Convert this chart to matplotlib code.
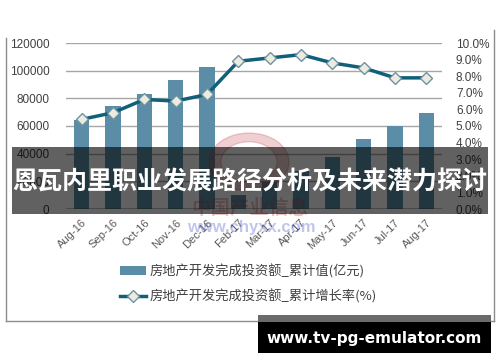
import numpy as np
import matplotlib.pyplot as plt
from matplotlib.patches import Rectangle, Wedge
from matplotlib.lines import Line2D

plt.rcParams['font.family'] = ['Liberation Sans', 'Noto Sans CJK SC', 'DejaVu Sans']

# 数据
months = ['Aug-16', 'Sep-16', 'Oct-16', 'Nov-16', 'Dec-16', 'Feb-17',
          'Mar-17', 'Apr-17', 'May-17', 'Jun-17', 'Jul-17', 'Aug-17']
invest = [64387, 74598, 83363, 93385, 102581, 9856,
          19292, 27732, 37732, 50610, 59761, 69694]
growth = [5.4, 5.8, 6.6, 6.5, 6.9, 8.9, 9.1, 9.3, 8.8, 8.5, 7.9, 7.9]
left_ticks = [0, 20000, 40000, 60000, 80000, 100000, 120000]
right_ticks = [0, 1, 2, 3, 4, 5, 6, 7, 8, 9, 10]

bar_label = '房地产开发完成投资额_累计值(亿元)'
line_label = '房地产开发完成投资额_累计增长率(%)'
title = '恩瓦内里职业发展路径分析及未来潜力探讨'

W, H = 500, 362
fig = plt.figure(figsize=(5, 3.62), dpi=100)
ax = fig.add_axes([66 / W, 1 - 209 / H, 376 / W, 166 / H])
ax2 = ax.twinx()

x = np.arange(len(months))
bars = ax.bar(x, invest, width=0.48, color='#5b8ea6', zorder=2, label=bar_label)
ax.set_xlim(-0.5, len(months) - 0.5)
ax.set_ylim(0, 120000)
ax.set_yticks(left_ticks)
ax.grid(axis='y', color='#a6a6a6', linewidth=1, zorder=0)
ax.axhline(0, color='black', linewidth=1, zorder=3)
ax.set_axisbelow(True)

line, = ax2.plot(x, growth, color='#11607a', linewidth=2.5, marker='D',
                 markersize=6.5, markerfacecolor='#edebe0', markeredgecolor='#6c93a2',
                 markeredgewidth=1, zorder=4, label=line_label)
ax2.set_ylim(0, 10)
ax2.set_yticks(right_ticks)
ax2.set_yticklabels([f'{v:.1f}%' for v in right_ticks])

for a in (ax, ax2):
    for s in a.spines.values():
        s.set_visible(False)
    a.tick_params(length=0, labelsize=8.5, labelcolor='#404040')
ax.tick_params(axis='y', pad=12)
ax2.tick_params(axis='y', pad=10)
ax.set_xticks(x)
ax.set_xticklabels(months, rotation=45, ha='right', rotation_mode='anchor',
                   fontsize=8, color='#595959')
ax.tick_params(axis='x', pad=6)

# 图例
fig.legend(handles=[bars, line], labels=[bar_label, line_label],
           loc='upper left', bbox_to_anchor=(120 / W, 1 - 264 / H),
           frameon=False, fontsize=9.5, handlelength=2.0, handletextpad=0.25,
           labelspacing=0.85, borderpad=0, borderaxespad=0,
           prop={'family': ['Noto Sans CJK SC', 'DejaVu Sans'], 'size': 9.5},
           labelcolor='#404040')

# 外框
fx = lambda px: px / W
fy = lambda py: 1 - py / H
fig.add_artist(Line2D([fx(5.5), fx(5.5)], [fy(38), fy(321)], color='#8c8c8c', lw=1))
fig.add_artist(Line2D([fx(5.5), fx(494)], [fy(321), fy(321)], color='#8c8c8c', lw=1))
fig.add_artist(Line2D([fx(494), fx(494)], [fy(30), fy(321)], color='#8c8c8c', lw=1))

# 水印
fig.add_artist(Wedge((fx(249), fy(162)), 40 / W, 0, 360, width=12 / W,
                     transform=fig.transFigure, color='#c0404a', alpha=0.25, zorder=5))
fig.text(fx(250), fy(208), '中国产业信息', ha='center', va='center', fontsize=14,
         fontweight='bold', color='#c03040', alpha=0.3, zorder=5,
         family=['Noto Sans CJK SC', 'DejaVu Sans'])
fig.text(fx(251), fy(228), 'www.chyxx.com', ha='center', va='center', fontsize=12,
         fontweight='bold', color='#3040c0', alpha=0.3, zorder=5)

# 标题横幅
fig.add_artist(Rectangle((fx(12), fy(214)), (488 - 12) / W, (214 - 147) / H,
                         transform=fig.transFigure, color='black', alpha=0.62,
                         lw=0, zorder=10))
fig.text(fx(250), fy(182), title, ha='center', va='center', fontsize=18,
         fontweight='bold', color='white', zorder=11,
         family=['Noto Sans CJK SC', 'DejaVu Sans'])

# 底部网址
fig.add_artist(Rectangle((fx(258), fy(322)), (491 - 258) / W, (322 - 315) / H,
                         transform=fig.transFigure, color='#6b6b6b', lw=0, zorder=10))
fig.add_artist(Rectangle((fx(258), fy(353)), (491 - 258) / W, (353 - 322) / H,
                         transform=fig.transFigure, color='black', lw=0, zorder=10))
fig.text(fx(374), fy(338), 'www.tv-pg-emulator.com', ha='center', va='center',
         fontsize=11, fontweight='bold', color='white', zorder=11,
         family=['DejaVu Sans'])

fig.savefig('out.png', dpi=100)
